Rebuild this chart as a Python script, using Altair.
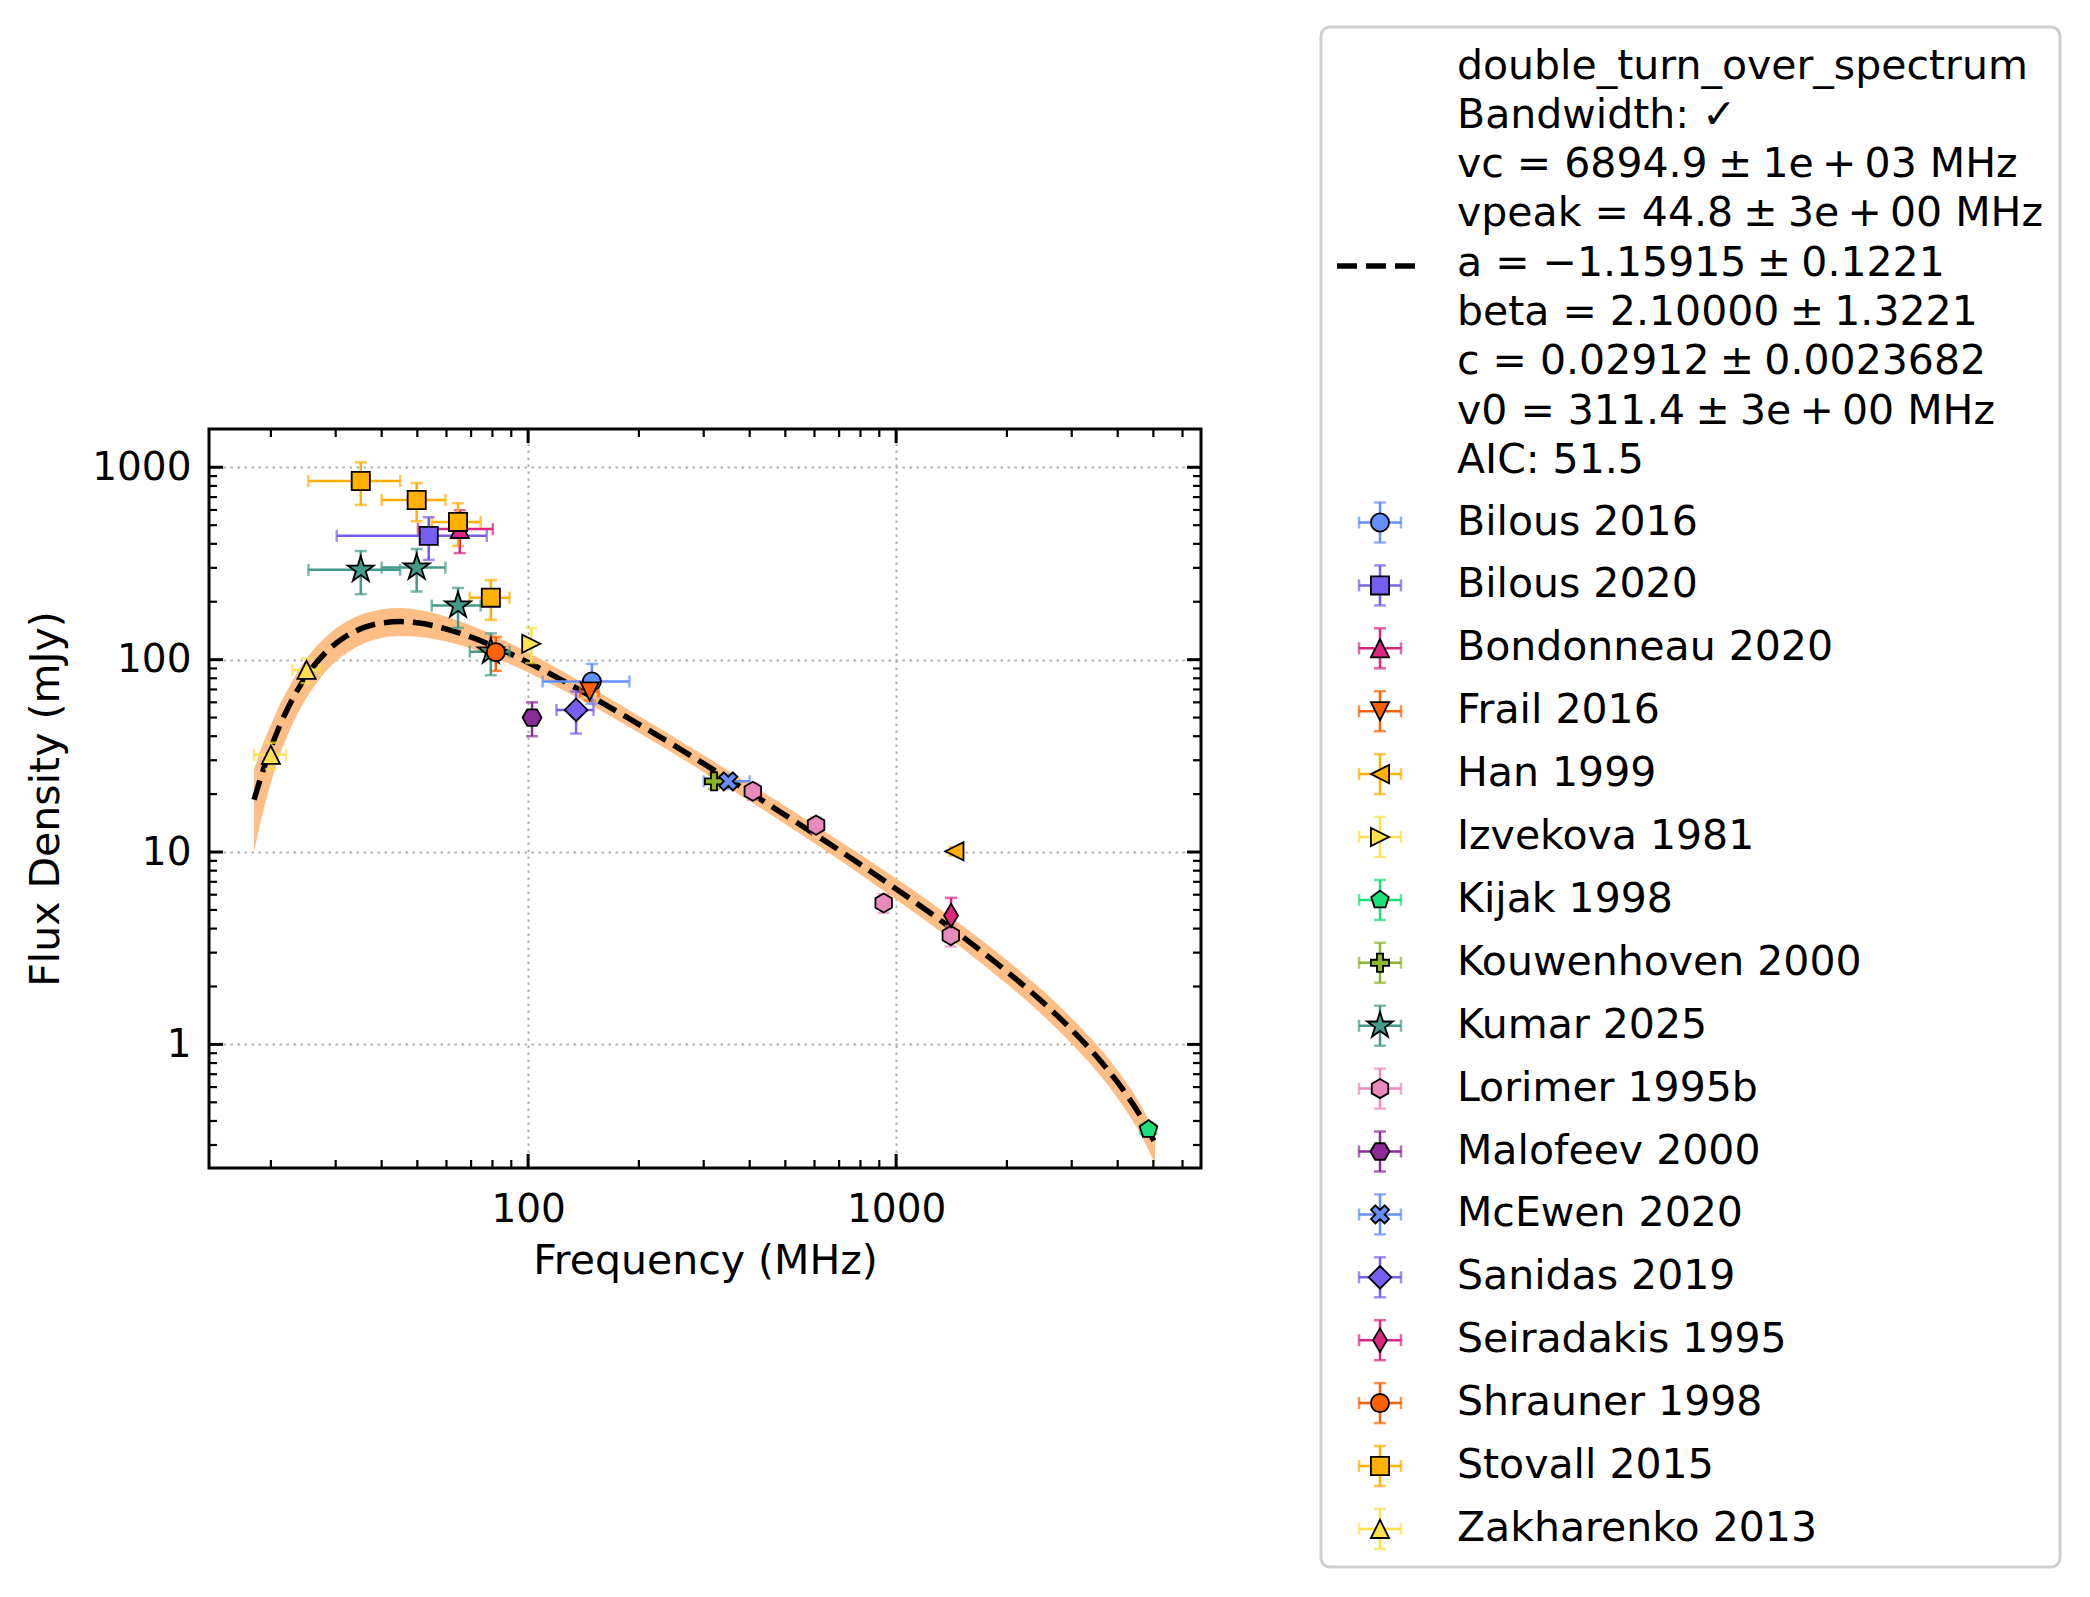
import altair as alt
import pandas as pd

FONT = "DejaVu Sans"

# ---------------- series (legend order) ----------------
series_names = ["Bilous 2016", "Bilous 2020", "Bondonneau 2020", "Frail 2016", "Han 1999",
                "Izvekova 1981", "Kijak 1998", "Kouwenhoven 2000", "Kumar 2025", "Lorimer 1995b",
                "Malofeev 2000", "McEwen 2020", "Sanidas 2019", "Seiradakis 1995", "Shrauner 1998",
                "Stovall 2015", "Zakharenko 2013"]
series_colors = ["#648FFF", "#785EF0", "#DC267F", "#FE6100", "#FFB000",
                 "#FFE04D", "#1CE07A", "#8DB52A", "#449A88", "#E98ABE",
                 "#8C2A98", "#648FFF", "#785EF0", "#DC267F", "#FE6100",
                 "#FFB000", "#FFE04D"]
TRI_UP = "M0,-1L-1,1L1,1Z"
TRI_DOWN = "M0,1L-1,-1L1,-1Z"
TRI_LEFT = "M-1,0L1,-1L1,1Z"
TRI_RIGHT = "M1,0L-1,-1L-1,1Z"
PENTAGON = "M0,-1.02L0.97,-0.315L0.6,0.825L-0.6,0.825L-0.97,-0.315Z"
PLUS = "M-0.333,-1L0.333,-1L0.333,-0.333L1,-0.333L1,0.333L0.333,0.333L0.333,1L-0.333,1L-0.333,0.333L-1,0.333L-1,-0.333L-0.333,-0.333Z"
STAR = "M0,-1.5L0.337,-0.464L1.427,-0.464L0.545,0.177L0.882,1.214L0,0.573L-0.882,1.214L-0.545,0.177L-1.427,-0.464L-0.337,-0.464Z"
HEX_H = "M0,-1.05L0.909,-0.525L0.909,0.525L0,1.05L-0.909,0.525L-0.909,-0.525Z"
HEX_F = "M1.05,0L0.525,0.909L-0.525,0.909L-1.05,0L-0.525,-0.909L0.525,-0.909Z"
XFILL = "M-0.5,-1L0,-0.5L0.5,-1L1,-0.5L0.5,0L1,0.5L0.5,1L0,0.5L-0.5,1L-1,0.5L-0.5,0L-1,-0.5Z"
DIAMOND = "M0,-1.25L1.25,0L0,1.25L-1.25,0Z"
THIN_DIAMOND = "M0,-1.3L0.77,0L0,1.3L-0.77,0Z"
series_shapes = ["circle", "square", TRI_UP, TRI_DOWN, TRI_LEFT,
                 TRI_RIGHT, PENTAGON, PLUS, STAR, HEX_H,
                 HEX_F, XFILL, DIAMOND, THIN_DIAMOND, "circle",
                 "square", TRI_UP]

# ---------------- measurements ----------------
pt_series = ["Bilous 2016", "Bilous 2020", "Bondonneau 2020", "Frail 2016", "Han 1999",
             "Izvekova 1981", "Kijak 1998", "Kouwenhoven 2000",
             "Kumar 2025", "Kumar 2025", "Kumar 2025", "Kumar 2025",
             "Lorimer 1995b", "Lorimer 1995b", "Lorimer 1995b", "Lorimer 1995b",
             "Malofeev 2000", "McEwen 2020", "Sanidas 2019", "Seiradakis 1995",
             "Shrauner 1998",
             "Stovall 2015", "Stovall 2015", "Stovall 2015", "Stovall 2015",
             "Zakharenko 2013", "Zakharenko 2013"]
pt_freq = [149, 53.7, 65.2, 147, 1440,
           102, 4850, 320,
           35.1, 49.8, 64.5, 79.2,
           408, 606, 925, 1408,
           102.5, 350, 135, 1410,
           81.7,
           35.1, 49.8, 64.5, 79.2,
           20, 25]
pt_flux = [77, 440, 478, 68.3, 10.1,
           121, 0.362, 23.3,
           293, 301, 191, 110,
           20.7, 13.8, 5.43, 3.68,
           50, 23.3, 54.8, 4.68,
           109.4,
           849, 676, 520, 210,
           32, 88.5]
pt_ferr = [39.5, 23.5, 15, 8.5, 0,
           0, 240, 0,
           9.8, 9.8, 9.8, 9.8,
           0, 0, 0, 0,
           0, 50, 15.6, 0,
           0,
           9.8, 9.8, 9.8, 9.8,
           2.0, 2.1]
pt_serr = [18, 110, 120, 7, 0.5,
           25, 0.03, 2,
           74, 75, 45, 27,
           2, 1.3, 0.6, 0.45,
           10, 2, 13.5, 1.1,
           22,
           212, 152, 130, 49,
           5, 13]

# ---------------- fitted model curve and its uncertainty band ----------------
fit_freq = [18, 19, 20, 21, 22, 23.5, 25, 28, 32, 36, 40, 45, 50, 56, 63, 71, 80, 90, 100,
            125, 150, 200, 250, 300, 400, 500, 630, 800, 1000, 1250, 1600, 2000, 2500,
            3000, 3500, 4000, 4500, 4800, 5050]
fit_flux = [18.7, 26.2, 34.7, 44.0, 53.6, 68.3, 82.5, 107.6, 132.3, 147.5, 155.1, 157.7,
            155.4, 149.4, 140.4, 129.7, 118.1, 106.7, 96.7, 77.3, 63.6, 46.1, 35.7, 28.8,
            20.4, 15.54, 11.67, 8.61, 6.43, 4.76, 3.35, 2.39, 1.66, 1.19, 0.868, 0.634,
            0.458, 0.371, 0.308]
band_hi = [27.0, 36.2, 45.7, 56.7, 67.5, 85.0, 101.5, 129.4, 157.2, 174.1, 182.2, 185.3,
           181.7, 173.9, 162.3, 148.9, 134.7, 120.8, 109.0, 86.3, 70.7, 50.9, 39.4, 31.8,
           22.6, 17.28, 13.03, 9.68, 7.28, 5.41, 3.83, 2.74, 1.906, 1.369, 1.001, 0.731,
           0.526, 0.421, 0.338]
band_lo = [10.04, 15.79, 22.93, 30.79, 38.83, 51.22, 63.31, 85.47, 107.5, 122.1, 129.6,
           132.7, 131.7, 127.8, 121.2, 113.0, 103.6, 94.2, 85.8, 69.2, 57.2, 41.75, 32.33,
           26.02, 18.39, 13.95, 10.42, 7.64, 5.66, 4.165, 2.911, 2.063, 1.419, 1.008,
           0.727, 0.524, 0.371, 0.295, 0.239]

PM = "\u2005\u00b1\u2005"
PL = "\u2009+\u2009"
fit_label_lines = ["double_turn_over_spectrum", "Bandwidth: \u2713",
                   "vc = 6894.9" + PM + "1e" + PL + "03 MHz",
                   "vpeak = 44.8" + PM + "3e" + PL + "00 MHz",
                   "a = \u22121.15915" + PM + "0.1221",
                   "beta = 2.10000" + PM + "1.3221",
                   "c = 0.02912" + PM + "0.0023682",
                   "v0 = 311.4" + PM + "3e" + PL + "00 MHz",
                   "AIC: 51.5"]

# ---------------- axes ticks ----------------
x_major = [100, 1000]
x_minor = [20, 30, 40, 50, 60, 70, 80, 90, 200, 300, 400, 500, 600, 700, 800, 900,
           2000, 3000, 4000, 5000, 6000]
y_major = [1, 10, 100, 1000]
y_minor = [0.3, 0.4, 0.5, 0.6, 0.7, 0.8, 0.9, 2, 3, 4, 5, 6, 7, 8, 9,
           20, 30, 40, 50, 60, 70, 80, 90, 200, 300, 400, 500, 600, 700, 800, 900]

W, H = 992, 739
MSIZE = 330

# ---------------- frames ----------------
pts = pd.DataFrame({"series": pt_series, "freq": pt_freq, "flux": pt_flux,
                    "ferr": pt_ferr, "serr": pt_serr})
pts["flo"] = pts["freq"] - pts["ferr"]
pts["fhi"] = pts["freq"] + pts["ferr"]
pts["slo"] = pts["flux"] - pts["serr"]
pts["shi"] = pts["flux"] + pts["serr"]
pts["order"] = range(len(pts))
fit = pd.DataFrame({"f": fit_freq, "s": fit_flux, "lo": band_lo, "hi": band_hi})

xs = alt.Scale(type="log", domain=[13.58, 6736], nice=False)
ys = alt.Scale(type="log", domain=[0.2278, 1581], nice=False)
common_axis = dict(grid=True, gridColor="#b0b0b0", gridDash=[2.5, 4.5], gridWidth=2,
                   ticks=False, tickSize=0, domain=False, format="d",
                   labelFont=FONT, labelFontSize=39, labelColor="black",
                   titleFont=FONT, titleFontSize=41, titleFontWeight="normal",
                   titleColor="black")
xaxis = alt.Axis(values=x_major, title="Frequency (MHz)", labelPadding=22,
                 titlePadding=12, **common_axis)
yaxis = alt.Axis(values=y_major, title="Flux Density (mJy)", labelPadding=18,
                 titlePadding=24, **common_axis)

color = alt.Color("series:N", scale=alt.Scale(domain=series_names, range=series_colors),
                  legend=None)
shape = alt.Shape("series:N", scale=alt.Scale(domain=series_names, range=series_shapes),
                  legend=None)

band = alt.Chart(fit).mark_area(color="#FFBE86", opacity=1, interpolate="monotone").encode(
    x=alt.X("f:Q", scale=xs, axis=xaxis),
    y=alt.Y("lo:Q", scale=ys, axis=yaxis),
    y2="hi:Q")
line = alt.Chart(fit).mark_line(color="black", strokeWidth=5.5, strokeDash=[20, 9],
                                interpolate="monotone").encode(
    x=alt.X("f:Q", scale=xs, axis=xaxis),
    y=alt.Y("s:Q", scale=ys, axis=yaxis))

xerr = alt.Chart(pts[pts["ferr"] > 0]).mark_errorbar(ticks=True, size=12, thickness=2.5).encode(
    x=alt.X("flo:Q", scale=xs, axis=xaxis), x2="fhi:Q",
    y=alt.Y("flux:Q", scale=ys, axis=yaxis), color=color)
yerr = alt.Chart(pts[pts["serr"] > 0]).mark_errorbar(ticks=True, size=12, thickness=2.5).encode(
    x=alt.X("freq:Q", scale=xs, axis=xaxis),
    y=alt.Y("slo:Q", scale=ys, axis=yaxis), y2="shi:Q", color=color)
points = alt.Chart(pts).mark_point(filled=True, opacity=1, stroke="black", strokeWidth=1.8,
                                   size=MSIZE).encode(
    x=alt.X("freq:Q", scale=xs, axis=xaxis),
    y=alt.Y("flux:Q", scale=ys, axis=yaxis),
    shape=shape, color=color, order="order:Q")


def xticks(vals, length, width):
    d = pd.DataFrame({"v": vals})
    base = alt.Chart(d).mark_rule(color="black", strokeWidth=width)
    bottom = base.encode(x=alt.X("v:Q", scale=xs, axis=xaxis),
                         y=alt.value(H), y2=alt.value(H - length))
    top = base.encode(x=alt.X("v:Q", scale=xs, axis=xaxis),
                      y=alt.value(0), y2=alt.value(length))
    return [bottom, top]


def yticks(vals, length, width):
    d = pd.DataFrame({"v": vals})
    base = alt.Chart(d).mark_rule(color="black", strokeWidth=width)
    left = base.encode(y=alt.Y("v:Q", scale=ys, axis=yaxis),
                       x=alt.value(0), x2=alt.value(length))
    right = base.encode(y=alt.Y("v:Q", scale=ys, axis=yaxis),
                        x=alt.value(W), x2=alt.value(W - length))
    return [left, right]


tick_layers = (xticks(x_major, 14, 3) + xticks(x_minor, 8, 2.2) +
               yticks(y_major, 14, 3) + yticks(y_minor, 8, 2.2))

main = alt.layer(band, line, xerr, yerr, points, *tick_layers)

# ---------------- legend (own linear scales, box from 1321..2060 x 27..1567) ----------------
LX = alt.Scale(domain=[0, 739], range=[1112, 1851], zero=False, nice=False)
LY = alt.Scale(domain=[0, 1540], range=[-402, 1138], zero=False, nice=False)

box = pd.DataFrame({"x0": [0], "x1": [739], "y0": [0], "y1": [1540]})
leg_box = alt.Chart(box).mark_rect(fill="white", stroke="#d0d0d0", strokeWidth=3,
                                   cornerRadius=9).encode(
    x=alt.X("x0:Q", scale=LX, axis=None), x2="x1:Q",
    y=alt.Y("y0:Q", scale=LY, axis=None), y2="y1:Q")

handle = pd.DataFrame({"x0": [16], "x1": [103], "y": [239]})
leg_handle = alt.Chart(handle).mark_rule(color="black", strokeWidth=5.5,
                                         strokeDash=[20, 9]).encode(
    x=alt.X("x0:Q", scale=LX, axis=None), x2="x1:Q",
    y=alt.Y("y:Q", scale=LY, axis=None))

fit_txt = pd.DataFrame({"t": fit_label_lines,
                        "x": [136] * len(fit_label_lines),
                        "y": [39.5 + 49.3 * i for i in range(len(fit_label_lines))]})
leg_fit_txt = alt.Chart(fit_txt).mark_text(align="left", baseline="middle", font=FONT,
                                           fontSize=41, color="black").encode(
    x=alt.X("x:Q", scale=LX, axis=None), y=alt.Y("y:Q", scale=LY, axis=None), text="t:N")

rows = pd.DataFrame({"series": series_names,
                     "y": [495.5 + 62.9 * i for i in range(len(series_names))]})
rows["mx"] = 59
rows["tx"] = 136
rows["xlo"] = 38
rows["xhi"] = 80
rows["ylo"] = rows["y"] - 20
rows["yhi"] = rows["y"] + 20

leg_txt = alt.Chart(rows).mark_text(align="left", baseline="middle", font=FONT,
                                    fontSize=41, color="black").encode(
    x=alt.X("tx:Q", scale=LX, axis=None), y=alt.Y("y:Q", scale=LY, axis=None),
    text="series:N")
leg_xerr = alt.Chart(rows).mark_errorbar(ticks=True, size=12, thickness=2.5).encode(
    x=alt.X("xlo:Q", scale=LX, axis=None), x2="xhi:Q",
    y=alt.Y("y:Q", scale=LY, axis=None), color=color)
leg_yerr = alt.Chart(rows).mark_errorbar(ticks=True, size=12, thickness=2.5).encode(
    x=alt.X("mx:Q", scale=LX, axis=None),
    y=alt.Y("ylo:Q", scale=LY, axis=None), y2="yhi:Q", color=color)
leg_pts = alt.Chart(rows).mark_point(filled=True, opacity=1, stroke="black",
                                     strokeWidth=1.8, size=MSIZE).encode(
    x=alt.X("mx:Q", scale=LX, axis=None), y=alt.Y("y:Q", scale=LY, axis=None),
    shape=shape, color=color)

legend = alt.layer(leg_box, leg_handle, leg_fit_txt, leg_txt, leg_xerr, leg_yerr, leg_pts)

chart = alt.layer(main, legend).resolve_scale(x="independent", y="independent").properties(
    width=W, height=H,
    padding={"left": 209, "top": 429, "right": 2090 - 209 - W, "bottom": 1597 - 429 - H},
    autosize=alt.AutoSizeParams(type="none"),
    background="white",
).configure_view(stroke="black", strokeWidth=3)

chart.save("out.html", embed_options={"renderer": "svg", "actions": False})
